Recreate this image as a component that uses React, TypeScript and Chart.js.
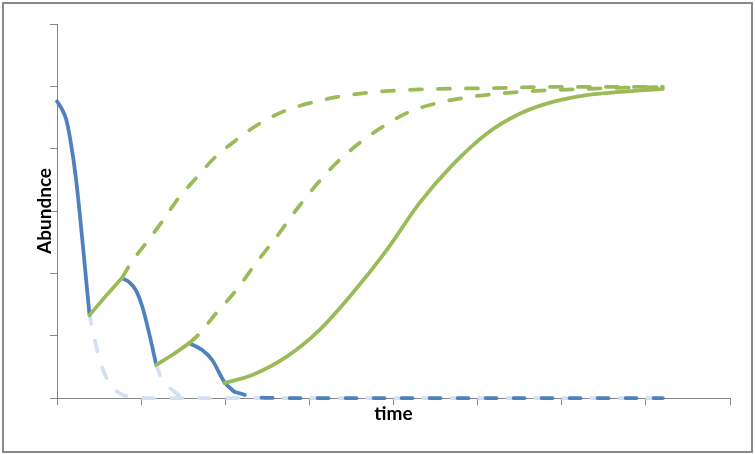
import React, { useEffect, useRef } from "react";
import { Chart, registerables } from "chart.js";

Chart.register(...registerables);

// x in axis intervals (0..8), y in axis intervals (0..6)
const xTicks = [0, 1, 2, 3, 4, 5, 6, 7, 8];
const yTicks = [0, 1, 2, 3, 4, 5, 6];
const xTitle = "time";
const yTitle = "Abundnce";

const blueDrop1: [number, number][] = [
  [0, 4.76], [0.06, 4.63], [0.107, 4.48], [0.155, 4.17], [0.223, 3.55], [0.387, 1.33],
];
const blueDrop2: [number, number][] = [
  [0.777, 1.92], [0.857, 1.86], [0.937, 1.73], [1.015, 1.46], [1.095, 1.04], [1.175, 0.56],
];
const blueDrop3: [number, number][] = [
  [1.571, 0.88], [1.726, 0.77], [1.845, 0.61], [1.988, 0.26], [2.107, 0.1],
];
const blueTail: [number, number][] = [
  [2.107, 0.1], [2.262, 0.04], [2.405, 0.01], [2.643, 0], [7.202, 0],
];
const paleDecay1: [number, number][] = [
  [0.387, 1.33], [0.44, 0.98], [0.52, 0.56], [0.619, 0.24], [0.738, 0.08],
  [0.857, 0.02], [1.036, 0], [7.202, 0],
];
const paleDecay2: [number, number][] = [
  [1.179, 0.53], [1.25, 0.29], [1.369, 0.13], [1.488, 0.02], [1.631, 0],
];
const greenRise1: [number, number][] = [
  [0.387, 1.33], [0.583, 1.64], [0.774, 1.93],
];
const greenDash1: [number, number][] = [
  [0.774, 1.93], [0.881, 2.17], [1.06, 2.49], [1.238, 2.81], [1.429, 3.18],
  [1.655, 3.53], [1.869, 3.85], [2.131, 4.14], [2.381, 4.38], [2.679, 4.59],
  [3.0, 4.73], [3.333, 4.83], [3.714, 4.9], [4.31, 4.95], [5.107, 4.97],
  [5.893, 4.99], [7.202, 4.99],
];
const greenRise2: [number, number][] = [
  [1.179, 0.53], [1.369, 0.69], [1.571, 0.88],
];
const greenDash2: [number, number][] = [
  [1.571, 0.88], [1.655, 0.98], [1.893, 1.36], [2.131, 1.73], [2.369, 2.17],
  [2.607, 2.58], [2.845, 3.02], [3.083, 3.42], [3.321, 3.77], [3.595, 4.09],
  [3.869, 4.35], [4.155, 4.57], [4.429, 4.7], [4.905, 4.83], [5.5, 4.91],
  [6.298, 4.96], [7.202, 4.99],
];
const greenRecovery: [number, number][] = [
  [1.988, 0.24], [2.321, 0.37], [2.726, 0.66], [3.119, 1.09], [3.512, 1.68],
  [3.917, 2.37], [4.31, 3.13], [4.702, 3.74], [5.107, 4.24], [5.5, 4.56],
  [5.893, 4.75], [6.298, 4.86], [6.69, 4.91], [7.202, 4.96],
];

const BLUE = "#4f81bd";
const PALE = "#d3e0f1";
const GREEN = "#9bbb59";
const AXIS = "#868686";

const toPts = (a: [number, number][]) => a.map(([x, y]) => ({ x, y }));

export default function App() {
  const ref = useRef<HTMLCanvasElement | null>(null);
  useEffect(() => {
    if (!ref.current) return;
    const line = (data: [number, number][], color: string, dash: number[] = [], dashOffset = 0) => ({
      data: toPts(data),
      borderColor: color,
      backgroundColor: color,
      borderWidth: 3.75,
      borderDash: dash,
      borderDashOffset: dashOffset,
      borderCapStyle: "round",
      borderJoinStyle: "round",
      pointRadius: 0,
      tension: 0.4,
      cubicInterpolationMode: "monotone",
      fill: false,
      clip: false,
    });
    // Chart.js draws the first dataset on top
    const chart = new Chart(ref.current, {
      type: "line",
      data: {
        datasets: [
          line(greenRise1, GREEN),
          line(greenRise2, GREEN),
          line(greenRecovery, GREEN),
          line(greenDash1, GREEN, [12, 16]),
          line(greenDash2, GREEN, [12, 16]),
          line(blueDrop1, BLUE),
          line(blueDrop2, BLUE),
          line(blueDrop3, BLUE),
          line(blueTail, BLUE, [11, 17]),
          line(paleDecay1, PALE, [11, 17], 2),
          line(paleDecay2, PALE, [11, 17]),
        ] as any,
      },
      options: {
        responsive: false,
        animation: false,
        layout: { padding: { top: 24, right: 25, left: 0, bottom: 0 } },
        plugins: { legend: { display: false }, tooltip: { enabled: false } },
        scales: {
          x: {
            type: "linear",
            min: xTicks[0],
            max: xTicks[xTicks.length - 1],
            afterBuildTicks: (s: any) => { s.ticks = xTicks.map((v) => ({ value: v })); },
            afterFit: (s: any) => { s.height = 56; },
            ticks: { display: false },
            grid: { drawOnChartArea: false, drawTicks: true, tickLength: 7, color: AXIS },
            border: { display: true, color: AXIS, width: 1 },
            title: {
              display: true,
              text: xTitle,
              color: "#000",
              font: { family: "Lato, 'Open Sans', sans-serif", size: 19, weight: "bold" },
              padding: { top: 0, bottom: 29 },
            },
          },
          y: {
            type: "linear",
            min: yTicks[0],
            max: yTicks[yTicks.length - 1],
            afterBuildTicks: (s: any) => { s.ticks = yTicks.map((v) => ({ value: v })); },
            afterFit: (s: any) => { s.width = 57; },
            ticks: { display: false },
            grid: { drawOnChartArea: false, drawTicks: true, tickLength: 7, color: AXIS },
            border: { display: true, color: AXIS, width: 1 },
            title: {
              display: true,
              text: yTitle,
              color: "#000",
              font: { family: "Lato, 'Open Sans', sans-serif", size: 19, weight: "bold" },
              padding: { top: 33, bottom: 0 },
            },
          },
        },
      } as any,
    });
    return () => chart.destroy();
  }, []);
  return (
    <div style={{ position: "fixed", left: 0, top: 0, width: 755, height: 454, background: "#fff" }}>
      <canvas ref={ref} width={755} height={454} style={{ position: "absolute", left: 0, top: 0, width: 755, height: 454 }} />
      <div
        style={{
          position: "absolute",
          left: 2,
          top: 2,
          width: 751,
          height: 451,
          boxSizing: "border-box",
          border: "2px solid #898989",
          pointerEvents: "none",
        }}
      />
    </div>
  );
}
